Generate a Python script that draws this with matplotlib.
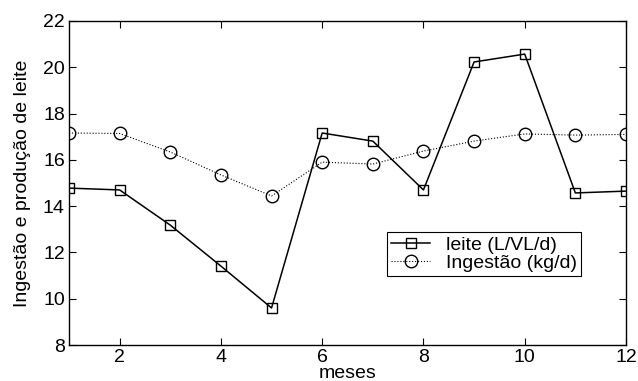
import matplotlib
matplotlib.use("Agg")
import matplotlib.pyplot as plt

plt.rcParams['font.family'] = ['Liberation Sans', 'DejaVu Sans']

#dados
meses = [1, 2, 3, 4, 5, 6, 7, 8, 9, 10, 11, 12]
leite = [14.78, 14.7, 13.18, 11.41, 9.6, 17.16, 16.81, 14.7, 20.23, 20.57, 14.57, 14.65]
ingestao = [17.16, 17.14, 16.34, 15.35, 14.44, 15.9, 15.82, 16.38, 16.81, 17.12, 17.07, 17.1]
xticks = [2, 4, 6, 8, 10, 12]
yticks = [8, 10, 12, 14, 16, 18, 20, 22]

fig = plt.figure(figsize=(6.38, 3.81), dpi=100)
ax = fig.add_axes([69/638, 1-345/381, (626-69)/638, (345-21)/381])

ax.plot(meses, leite, color='black', linestyle='-', linewidth=1.1,
        marker='s', markersize=7, markerfacecolor='none', markeredgecolor='black',
        markeredgewidth=1.0, label='leite (L/VL/d)')
ax.plot(meses, ingestao, color='black', linestyle=':', linewidth=0.8,
        marker='o', markersize=9, markerfacecolor='none', markeredgecolor='black',
        markeredgewidth=1.0, label='Ingestão (kg/d)')

ax.set_xlim(1, 12)
ax.set_ylim(8, 22)
ax.set_xticks(xticks)
ax.set_yticks(yticks)
ax.tick_params(direction='in', top=True, right=True, length=5, labelsize=14, pad=3)
for s in ax.spines.values():
    s.set_linewidth(1.0)

ax.set_xlabel('meses', fontsize=14)
ax.xaxis.set_label_coords(0.5, -(365-345)/324)
ax.set_ylabel('Ingestão e produção de leite', fontsize=14)
ax.yaxis.set_label_coords(-(69-31)/557, 0.5)

leg = ax.legend(loc='center', bbox_to_anchor=((484-69)/557, 1-(254-21)/324),
                fontsize=14, frameon=True, fancybox=False, edgecolor='black',
                framealpha=1, borderpad=0.2, labelspacing=0.05, handlelength=2.0,
                handletextpad=0.8, borderaxespad=0)
leg.get_frame().set_linewidth(0.8)

fig.savefig('out.png', dpi=100)
